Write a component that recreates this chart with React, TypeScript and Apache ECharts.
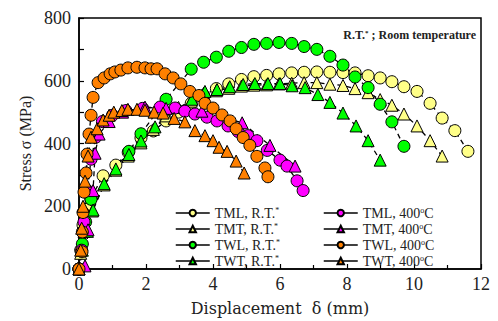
import React, { useEffect, useRef } from "react";
import * as echarts from "echarts";

const seriesNames = [
  "TML, R.T.",
  "TMT, R.T.",
  "TWL, R.T.",
  "TWT, R.T.",
  "TML, 400°C",
  "TMT, 400°C",
  "TWL, 400°C",
  "TWT, 400°C",
];

const tmlRT: [number, number][] = [
  [0, 0], [0.05, 60], [0.12, 140], [0.22, 190], [0.35, 225], [0.72, 297], [1.1, 331], [1.47, 372],
  [1.85, 418], [2.22, 440], [2.6, 472], [2.97, 500], [3.35, 528], [3.72, 553], [4.1, 575],
  [4.47, 590], [4.85, 604], [5.22, 613], [5.6, 617], [5.97, 622], [6.35, 625], [6.72, 627],
  [7.1, 628], [7.49, 627], [7.88, 626], [8.24, 625], [8.63, 616], [8.99, 609], [9.34, 597],
  [9.7, 581], [10.09, 566], [10.48, 528], [10.84, 481], [11.22, 441], [11.61, 375],
];

const tmtRT: [number, number][] = [
  [0, 0], [0.05, 50], [0.15, 120], [0.4, 185], [0.75, 268], [1.1, 315], [1.47, 360], [1.85, 402],
  [2.22, 445], [2.6, 488], [2.97, 515], [3.35, 535], [3.72, 560], [4.1, 568], [4.47, 576],
  [4.85, 583], [5.22, 586], [5.6, 587], [5.97, 590], [6.35, 592], [6.72, 594], [7.1, 594],
  [7.49, 589], [7.88, 585], [8.24, 575], [8.63, 562], [8.99, 540], [9.34, 522], [9.7, 494],
  [10.09, 456], [10.48, 409], [10.84, 360],
];

const twlRT: [number, number][] = [
  [0, 0], [0.1, 80], [0.2, 150], [0.36, 222], [1.49, 375], [1.85, 431], [2.6, 541], [3.35, 637],
  [3.72, 659], [4.1, 675], [4.47, 694], [4.85, 706], [5.22, 716], [5.6, 719], [5.97, 722],
  [6.35, 719], [6.72, 709], [7.1, 700], [7.49, 678], [7.88, 650], [8.24, 612], [8.63, 578],
  [8.99, 525], [9.34, 469], [9.7, 391],
];

const twtRT: [number, number][] = [
  [0, 0], [0.1, 60], [0.25, 120], [0.42, 188], [0.75, 272], [1.1, 319], [1.49, 365], [1.85, 408],
  [2.27, 453], [3.37, 541], [3.76, 566], [4.12, 572], [4.5, 581], [4.9, 588], [5.25, 591],
  [5.64, 591], [6.0, 591], [6.36, 584], [6.75, 578], [7.13, 556], [7.49, 531], [7.88, 497],
  [8.27, 456], [8.63, 409], [8.99, 347],
];

const tml400: [number, number][] = [
  [0, 0], [0.08, 60], [0.15, 150], [0.25, 250], [0.36, 350], [0.5, 420], [0.7, 470], [1.0, 490],
  [1.4, 505], [1.9, 512], [2.42, 516], [2.87, 513], [3.16, 503], [3.46, 494], [3.82, 484],
  [4.12, 472], [4.45, 456], [4.75, 438], [5.04, 425], [5.31, 409], [5.62, 378], [6.0, 347],
  [6.21, 328], [6.51, 281], [6.69, 250],
];

const tmt400: [number, number][] = [
  [0.18, 10], [0.27, 125], [0.42, 250], [0.48, 369], [0.6, 430], [0.9, 470], [1.3, 500],
  [1.97, 516], [2.6, 512], [3.67, 503], [4.87, 466], [5.7, 394], [6.45, 328],
];

const twl400: [number, number][] = [
  [0, 0], [0.09, 55], [0.1, 118], [0.12, 180], [0.15, 245], [0.21, 306], [0.24, 366], [0.3, 430],
  [0.36, 490], [0.42, 547], [0.57, 594], [0.75, 609], [0.93, 622], [1.07, 628], [1.25, 634],
  [1.46, 641], [1.73, 643], [1.97, 641], [2.15, 638], [2.33, 638], [2.57, 622], [2.81, 609],
  [3.04, 590], [3.31, 566], [3.58, 553], [3.76, 528], [4.0, 513], [4.27, 491], [4.51, 472],
  [4.69, 447], [4.9, 419], [5.1, 394], [5.31, 359], [5.55, 322], [5.64, 294],
];

const twt400: [number, number][] = [
  [0, 0], [0.05, 60], [0.08, 130], [0.12, 200], [0.18, 280], [0.27, 360], [0.36, 420], [0.54, 447],
  [0.72, 475], [0.9, 490], [1.04, 500], [1.28, 505], [1.46, 509], [1.73, 509], [1.97, 506],
  [2.24, 500], [2.51, 497], [2.84, 480], [3.16, 469], [3.46, 441], [3.76, 425], [4.0, 409],
  [4.18, 388], [4.42, 375], [4.69, 344], [4.93, 306],
];

const allData = [tmlRT, tmtRT, twlRT, twtRT, tml400, tmt400, twl400, twt400];
const colors = ["#FFFF88", "#FFFF88", "#00FF00", "#00FF00", "#FF00FF", "#FF00FF", "#FF8000", "#FF8000"];
const symbols = ["circle", "triangle", "circle", "triangle", "circle", "triangle", "circle", "triangle"];

const xTicks = [0, 2, 4, 6, 8, 10, 12];
const yTicks = [0, 200, 400, 600, 800];

const FONT = "Liberation Serif";

function legendFormatter(name: string) {
  if (name.endsWith("R.T.")) return name + "{sup|*}";
  return name.replace("°C", "{sup|o}C");
}

export default function App() {
  const ref = useRef<HTMLDivElement>(null);
  useEffect(() => {
    if (!ref.current) return;
    const chart = echarts.init(ref.current, undefined, { renderer: "svg" });
    const legendBase = {
      orient: "vertical",
      itemWidth: 34,
      itemHeight: 8,
      itemGap: 2,
      lineStyle: { type: "solid", color: "#000", width: 1.5 },
      formatter: legendFormatter,
      textStyle: {
        fontFamily: FONT,
        fontSize: 14,
        color: "#222",
        lineHeight: 14,
        rich: { sup: { fontSize: 8, fontFamily: FONT, verticalAlign: "top", lineHeight: 10, color: "#222" } },
      },
    };
    chart.setOption({
      animation: false,
      grid: { left: 79, right: 17, top: 18, bottom: 47, show: true, borderColor: "#000", borderWidth: 1.5 },
      title: {
        text: "R.T.{sup|*} ; Room temperature",
        right: 17,
        top: 24,
        textStyle: {
          fontFamily: FONT,
          fontWeight: "bold",
          fontSize: 12,
          color: "#222",
          rich: { sup: { fontSize: 7, fontWeight: "bold", fontFamily: FONT, verticalAlign: "top", color: "#222" } },
        },
      },
      legend: [
        { ...legendBase, left: 170, top: 201, data: seriesNames.slice(0, 4) },
        { ...legendBase, left: 318, top: 201, data: seriesNames.slice(4) },
      ],
      xAxis: {
        type: "value",
        min: 0,
        max: 12,
        interval: 2,
        name: "Displacement  δ (mm)",
        nameLocation: "middle",
        nameGap: 31,
        nameTextStyle: { fontFamily: "DejaVu Serif", fontSize: 16, color: "#222" },
        axisLine: { lineStyle: { color: "#000", width: 1.5 } },
        axisTick: { inside: true, length: 5, lineStyle: { color: "#000", width: 1.2 } },
        minorTick: { show: true, splitNumber: 2, length: 4, lineStyle: { color: "#000", width: 1.2 } },
        axisLabel: { fontFamily: FONT, fontSize: 18, color: "#222", margin: 6 },
        splitLine: { show: false },
      },
      yAxis: {
        type: "value",
        min: 0,
        max: 800,
        interval: 200,
        name: "Stress σ (MPa)",
        nameLocation: "middle",
        nameGap: 46,
        nameTextStyle: { fontFamily: FONT, fontSize: 16, color: "#222" },
        axisLine: { lineStyle: { color: "#000", width: 1.5 } },
        axisTick: { inside: true, length: 5, lineStyle: { color: "#000", width: 1.2 } },
        minorTick: { show: true, splitNumber: 2, length: 5, lineStyle: { color: "#000", width: 1.2 } },
        axisLabel: { fontFamily: FONT, fontSize: 18, color: "#222", margin: 8 },
        splitLine: { show: false },
      },
      series: allData.map((d, i) => ({
        name: seriesNames[i],
        type: "line",
        data: d,
        symbol: symbols[i],
        symbolSize: 12,
        showAllSymbol: true,
        lineStyle: { color: "#000", width: 1.3, type: [5, 4] },
        itemStyle: { color: colors[i], borderColor: "#000", borderWidth: 1 },
      })),
    });
    return () => chart.dispose();
  }, []);
  return <div ref={ref} style={{ width: 498, height: 321, position: "absolute", left: 0, top: 0 }} />;
}
